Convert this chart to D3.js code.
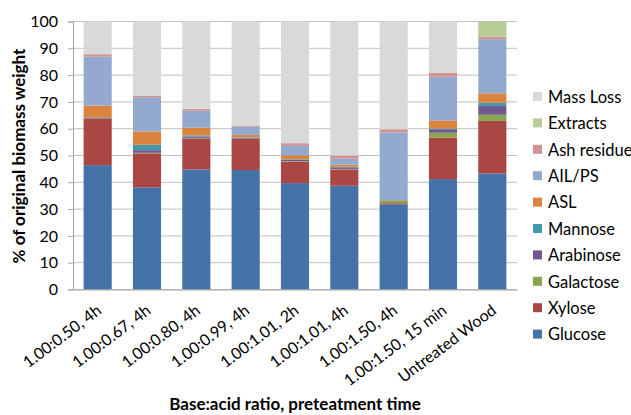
<!DOCTYPE html>
<html><head><meta charset="utf-8">
<script src="https://cdn.jsdelivr.net/npm/d3@7"></script>
<style>body{margin:0;background:#fff}svg{font-family:Lato,"Open Sans",sans-serif}</style>
</head><body><svg id="c" width="631" height="415"></svg>
<script>
const categories = ["1.00:0.50, 4h","1.00:0.67, 4h","1.00:0.80, 4h","1.00:0.99, 4h","1.00:1.01, 2h","1.00:1.01, 4h","1.00:1.50, 4h","1.00:1.50, 15 min","Untreated Wood"];
const glucose   = [46.4, 38.1, 44.8, 44.6, 39.7, 38.7, 31.8, 41.2, 43.3];
const xylose    = [17.5, 12.7, 11.6, 11.6, 8.0, 6.1, 0.4, 15.5, 19.6];
const galactose = [0.1, 0.2, 0.2, 0.1, 0.2, 0.2, 1.0, 1.8, 2.3];
const arabinose = [0.2, 1.0, 0.5, 0.3, 0.5, 0.6, 0.1, 1.3, 3.3];
const mannose   = [0.1, 2.0, 0.4, 0.2, 0.2, 0.2, 0.0, 0.3, 1.2];
const asl       = [4.3, 5.0, 2.9, 0.9, 1.5, 0.8, 0.1, 3.0, 3.5];
const ail       = [18.3, 12.7, 6.3, 3.0, 3.5, 2.2, 25.2, 16.3, 20.2];
const ash       = [0.9, 0.5, 0.7, 0.4, 1.0, 1.2, 1.2, 1.5, 1.0];
const extracts  = [0, 0, 0, 0, 0, 0, 0, 0, 5.6];
const massLoss  = [12.2, 27.8, 32.6, 38.9, 45.4, 50.0, 40.2, 19.1, 0];
const seriesNames = ["Glucose","Xylose","Galactose","Arabinose","Mannose","ASL","AIL/PS","Ash residue","Extracts","Mass Loss"];
const seriesValues = [glucose,xylose,galactose,arabinose,mannose,asl,ail,ash,extracts,massLoss];
const colors = ["#4572A7","#AA4643","#89A54E","#71588F","#4198AF","#DB843D","#93A9CF","#D19392","#B9CD96","#D9D9D9"];
const yTicks = [0,10,20,30,40,50,60,70,80,90,100];

const svg = d3.select("#c");
const m = {l:73, r:517, t:21.5, b:289.5};
const x = d3.scaleBand().domain(categories).range([m.l, m.r]).paddingInner(0.43).paddingOuter(0.215);
const y = d3.scaleLinear().domain([0,100]).range([m.b, m.t]);

svg.append("g").selectAll("line").data(yTicks).join("line")
  .attr("x1", m.l).attr("x2", m.r).attr("y1", d=>y(d)).attr("y2", d=>y(d))
  .attr("stroke", "#C0C0C0").attr("stroke-width", 1);

const rows = categories.map((c,i)=>{const o={cat:c}; seriesNames.forEach((s,j)=>o[s]=seriesValues[j][i]); return o;});
const stack = d3.stack().keys(seriesNames)(rows);
svg.append("g").selectAll("g").data(stack).join("g").attr("fill",(d,i)=>colors[i])
  .selectAll("rect").data(d=>d).join("rect")
  .attr("x", d=>x(d.data.cat)).attr("width", x.bandwidth())
  .attr("y", d=>y(d[1])).attr("height", d=>Math.max(0, y(d[0])-y(d[1])));

const ya = svg.append("g").attr("transform",`translate(${m.l},0)`)
  .call(d3.axisLeft(y).tickValues(yTicks).tickSize(5).tickPadding(10));
ya.select(".domain").attr("stroke","#A6A6A6");
ya.selectAll(".tick line").attr("stroke","#A6A6A6");
ya.selectAll("text").attr("font-size",16).attr("fill","#000").style("font-family","Lato,sans-serif");

const xa = svg.append("g").attr("transform",`translate(0,${m.b})`)
  .call(d3.axisBottom(x).tickSize(0).tickPadding(0));
xa.select(".domain").attr("stroke","#A6A6A6");
xa.selectAll("text").attr("font-size",16).attr("fill","#000")
  .attr("text-anchor","end").attr("y",0).attr("dy",0)
  .attr("transform", "translate(5,23) rotate(-37)")
  .style("font-family","Lato,sans-serif");

svg.append("text").attr("x",295).attr("y",410).attr("text-anchor","middle")
  .attr("font-size",17).attr("font-weight","bold").text("Base:acid ratio, preteatment time");
svg.append("text").attr("transform","translate(25,156) rotate(-90)").attr("text-anchor","middle")
  .attr("font-size",17).attr("font-weight","bold").text("% of original biomass weight");

const legOrder = seriesNames.map((s,i)=>i).reverse();
const lg = svg.append("g").selectAll("g").data(legOrder).join("g")
  .attr("transform",(d,i)=>`translate(533,${97 + i*26.4})`);
lg.append("rect").attr("x",0).attr("y",-5).attr("width",9).attr("height",9).attr("fill",d=>colors[d]);
lg.append("text").attr("x",15).attr("y",0).attr("dy","0.35em").attr("font-size",16.5).text(d=>seriesNames[d]);
</script></body></html>
